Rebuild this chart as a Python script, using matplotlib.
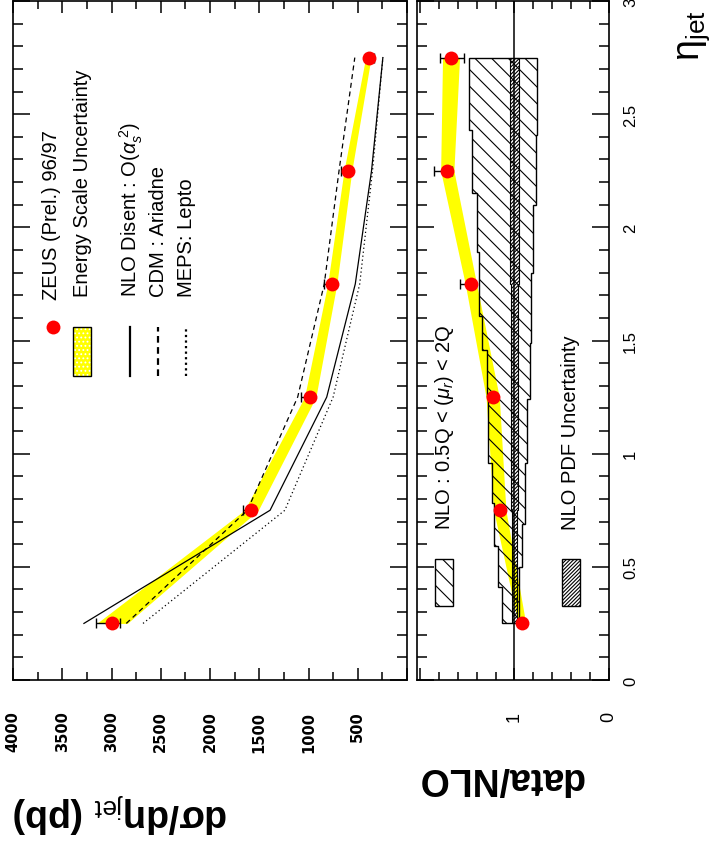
import numpy as np
import matplotlib
matplotlib.use("Agg")
import matplotlib.pyplot as plt
from matplotlib.patches import Rectangle, Polygon
from matplotlib.lines import Line2D
from matplotlib.ticker import MultipleLocator, FuncFormatter

plt.rcParams["font.family"] = ["Liberation Sans", "DejaVu Sans"]
plt.rcParams["mathtext.fontset"] = "custom"
plt.rcParams["mathtext.rm"] = "Liberation Sans"
plt.rcParams["mathtext.it"] = "Liberation Sans:italic"
plt.rcParams["mathtext.bf"] = "Liberation Sans:bold"
plt.rcParams["hatch.linewidth"] = 0.8

# --- ZEUS 96/97 : dsigma/deta_jet ------------------------------------------
eta = [0.25, 0.75, 1.25, 1.75, 2.25, 2.75]
xsec = [2994, 1584, 985, 758, 596, 386]
xsec_err_lo = [160, 80, 90, 80, 70, 15]
xsec_err_hi = [80, 40, 30, 30, 20, 55]
escale_lo = [2840, 1510, 925, 712, 560, 365]
escale_hi = [3150, 1650, 1040, 805, 640, 420]

nlo_disent = [3280, 1390, 815, 525, 360, 245]
cdm_ariadne = [2850, 1620, 1110, 840, 690, 530]
meps_lepto = [2680, 1240, 750, 480, 350, 245]

# --- data / NLO --------------------------------------------------------------
ratio = [0.92, 1.155, 1.225, 1.46, 1.715, 1.67]
ratio_err_lo = [0.03, 0.04, 0.03, 0.12, 0.13, 0.12]
ratio_err_hi = [0.03, 0.02, 0.03, 0.03, 0.055, 0.14]
ratio_escale_lo = [0.88, 1.09, 1.16, 1.40, 1.64, 1.58]
ratio_escale_hi = [0.96, 1.22, 1.30, 1.52, 1.78, 1.76]

# renormalisation scale band (0.5Q < mu_r < 2Q), stepped edges
scale_hi_edges = [0.25, 0.41, 0.59, 0.78, 0.96, 1.25, 1.46, 1.61, 1.89, 2.15, 2.43, 2.75]
scale_hi = [1.135, 1.17, 1.215, 1.24, 1.275, 1.29, 1.34, 1.37, 1.40, 1.45, 1.48]
scale_lo_edges = [0.25, 0.5, 0.69, 0.96, 1.24, 1.49, 1.80, 2.10, 2.41, 2.75]
scale_lo = [0.95, 0.92, 0.89, 0.87, 0.836, 0.825, 0.80, 0.77, 0.76]

# PDF uncertainty band
pdf_edges = [0.25, 0.75, 1.25, 1.75, 2.25, 2.75]
pdf_hi = [1.03, 1.035, 1.04, 1.045, 1.05]
pdf_lo = [0.97, 0.965, 0.96, 0.955, 0.95]

eta_ticks = [0, 0.5, 1, 1.5, 2, 2.5, 3]
eta_labels = ["0", "0.5", "1", "1.5", "2", "2.5", "3"]

W, H = 712, 845


def fx(px):
    return px / W


def fy(py):
    return 1 - py / H


def steps(edges, vals):
    """vertices (x=value, y=eta) of a stepped edge"""
    pts = []
    for i, v in enumerate(vals):
        pts.append((v, edges[i]))
        pts.append((v, edges[i + 1]))
    return pts


def style_eta(ax):
    ax.set_ylim(0, 3)
    ax.yaxis.set_major_locator(MultipleLocator(0.5))
    ax.yaxis.set_minor_locator(MultipleLocator(0.1))
    ax.tick_params(which="both", direction="in", top=True, bottom=True,
                   left=True, right=True, width=1.1, labelleft=False)
    ax.tick_params(axis="y", which="major", length=12)
    ax.tick_params(axis="y", which="minor", length=7)
    ax.tick_params(axis="x", which="major", length=8.5)
    ax.tick_params(axis="x", which="minor", length=5.5)
    for s in ax.spines.values():
        s.set_linewidth(1.2)


fig = plt.figure(figsize=(W / 100, H / 100), dpi=100)
ax1 = fig.add_axes([fx(13), fy(681), fx(407) - fx(13), fy(2) - fy(681)])
ax2 = fig.add_axes([fx(417), fy(681), fx(609) - fx(417), fy(2) - fy(681)])

# ---------------- cross section panel ----------------
style_eta(ax1)
ax1.set_xlim(4000, 0)
ax1.xaxis.set_major_locator(MultipleLocator(500))
ax1.xaxis.set_minor_locator(MultipleLocator(250))
ax1.xaxis.set_major_formatter(FuncFormatter(lambda v, _: "" if v < 1 else f"{v:.0f}"))
ax1.tick_params(axis="x", labelrotation=90, pad=22, labelsize=10.5)
for lbl in ax1.get_xticklabels():
    lbl.set_family("DejaVu Sans")
    lbl.set_fontweight("bold")

ax1.fill_betweenx(eta, escale_lo, escale_hi, color="#ffff00", lw=0, zorder=1)
ax1.plot(nlo_disent, eta, color="black", lw=0.9, zorder=2)
ax1.plot(cdm_ariadne, eta, color="black", lw=0.9, ls=(0, (4, 3)), zorder=2)
ax1.plot(meps_lepto, eta, color="black", lw=0.9, ls=(0, (1, 2.2)), zorder=2)
ax1.errorbar(xsec, eta, xerr=[xsec_err_hi, xsec_err_lo], fmt="o", color="#ff0000",
             ms=10, mec="none", ecolor="black", elinewidth=1, capsize=3.5,
             capthick=1, zorder=3)

# legend
leg_y0, leg_y1 = (681 - 377) / 679, (681 - 328) / 679
ax1.plot([(53 - 13) / 394], [leg_y1], "o", color="#ff0000", ms=10, mec="none",
         transform=ax1.transAxes, clip_on=False)
ax1.add_patch(Rectangle(((73 - 13) / 394, leg_y0), 18 / 394, leg_y1 - leg_y0,
                        transform=ax1.transAxes, facecolor="#ffff00",
                        edgecolor="white", hatch="....", lw=0))
ax1.add_patch(Rectangle(((73 - 13) / 394, leg_y0), 18 / 394, leg_y1 - leg_y0,
                        transform=ax1.transAxes, facecolor="none",
                        edgecolor="black", lw=1))
for px, ls in [(130, "-"), (158, (0, (3, 2))), (186, (0, (1, 1.5)))]:
    ax1.add_line(Line2D([(px - 13) / 394] * 2, [leg_y0, leg_y1], color="black",
                        lw=1.6, ls=ls, transform=ax1.transAxes))
legend_text = [
    (52, 300, "ZEUS (Prel.) 96/97"),
    (82, 297, "Energy Scale Uncertainty"),
    (131, 297, r"NLO Disent : O($\alpha_s^{\ 2}$)"),
    (158, 297, "CDM : Ariadne"),
    (187, 297, "MEPS: Lepto"),
]
for px, py, txt in legend_text:
    ax1.text((px - 13) / 394, (681 - py) / 679, txt, rotation=90, ha="center",
             va="bottom", fontsize=14.5, transform=ax1.transAxes)

# ---------------- data / NLO panel ----------------
style_eta(ax2)
ax2.set_xlim(2.03, 0)
ax2.set_xticks([0, 1, 2])
ax2.set_xticklabels(["0", "1", ""])
ax2.xaxis.set_minor_locator(MultipleLocator(0.2))
ax2.tick_params(axis="x", labelrotation=90, pad=22, labelsize=13)
ax2.set_yticks(eta_ticks)
ax2.set_yticklabels(eta_labels)
ax2.tick_params(axis="y", labelright=True, labelrotation=90, pad=10, labelsize=12)
for lbl in ax2.get_yticklabels():
    lbl.set_va("center")

ax2.fill_betweenx(eta, ratio_escale_lo, ratio_escale_hi, color="#ffff00", lw=0, zorder=1)
scale_poly = steps(scale_hi_edges, scale_hi) + steps(scale_lo_edges, scale_lo)[::-1]
ax2.add_patch(Polygon(scale_poly, closed=True, facecolor="none", edgecolor="black",
                      hatch="\\\\", lw=1, zorder=2))
pdf_poly = steps(pdf_edges, pdf_hi) + steps(pdf_edges, pdf_lo)[::-1]
ax2.add_patch(Polygon(pdf_poly, closed=True, facecolor="none", edgecolor="black",
                      hatch="/////////", lw=0.8, zorder=2))
ax2.axvline(1, color="black", lw=1.1, zorder=2)
ax2.errorbar(ratio, eta, xerr=[ratio_err_hi, ratio_err_lo], fmt="o", color="#ff0000",
             ms=10, mec="none", ecolor="black", elinewidth=1, capsize=3.5,
             capthick=1, zorder=3)

# legend
lb_y0, lb_y1 = (681 - 607) / 679, (681 - 560) / 679
ax2.add_patch(Rectangle(((435 - 417) / 192, lb_y0), 18 / 192, lb_y1 - lb_y0,
                        transform=ax2.transAxes, facecolor="white",
                        edgecolor="black", hatch="\\\\", lw=1))
ax2.add_patch(Rectangle(((562 - 417) / 192, lb_y0), 18 / 192, lb_y1 - lb_y0,
                        transform=ax2.transAxes, facecolor="white",
                        edgecolor="black", hatch="/////////", lw=1))
ax2.text((445 - 417) / 192, (681 - 530) / 679, r"NLO : 0.5Q < ($\mu_r$) < 2Q",
         rotation=90, ha="center", va="bottom", fontsize=14.5, transform=ax2.transAxes)
ax2.text((571 - 417) / 192, (681 - 530) / 679, "NLO PDF Uncertainty",
         rotation=90, ha="center", va="bottom", fontsize=14.5, transform=ax2.transAxes)

# axis titles
fig.text(fx(694), fy(36), r"η$_{\mathrm{jet}}$", rotation=90, ha="center",
         va="center", fontsize=27)
fig.text(fx(13), fy(813), r"dσ/dη$_{\mathrm{jet}}$ (pb)", rotation=180, ha="left",
         va="center", fontsize=27, fontweight="bold")
fig.text(fx(417), fy(778), "data/NLO", rotation=180, ha="left", va="center",
         fontsize=27, fontweight="bold")

fig.savefig("out.png", dpi=100)
